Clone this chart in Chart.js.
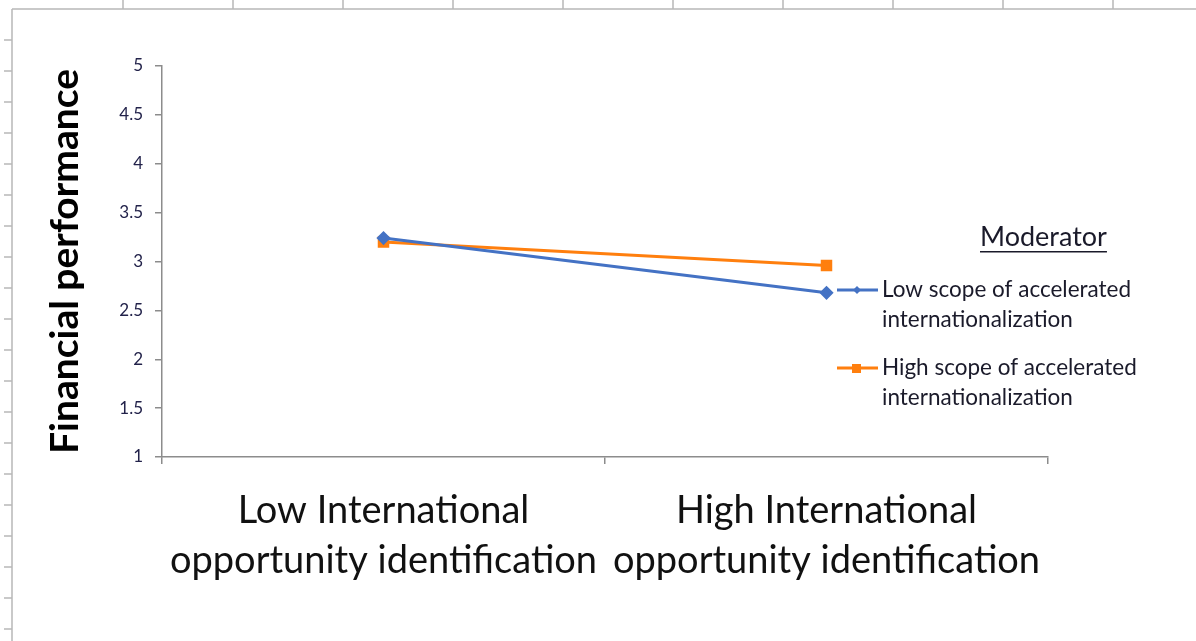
<!DOCTYPE html>
<html>
<head>
<meta charset="utf-8">
<script src="https://cdn.jsdelivr.net/npm/chart.js@4/dist/chart.umd.min.js"></script>
<style>
  html, body { margin: 0; padding: 0; background: #fff; }
  #wrap { width: 1196px; height: 641px; position: relative; }
</style>
</head>
<body>
<div id="wrap"><canvas id="chart"></canvas></div>
<script>
// data
const categories = [
  ['Low International', 'opportunity identification'],
  ['High International', 'opportunity identification']
];
const lowScope = [3.24, 2.68];
const highScope = [3.20, 2.96];
const seriesNames = [
  ['Low scope of accelerated', 'internationalization'],
  ['High scope of accelerated', 'internationalization']
];
const yTicks = [1, 1.5, 2, 2.5, 3, 3.5, 4, 4.5, 5];

const FONT = 'Lato, "Open Sans", sans-serif';

// spreadsheet cell borders behind the chart
const sheetFrame = {
  id: 'sheetFrame',
  beforeDraw(chart) {
    const c = chart.ctx;
    c.save();
    c.strokeStyle = '#b8b8b8';
    c.lineWidth = 1.5;
    c.beginPath();
    c.moveTo(12, 9); c.lineTo(1196, 9);
    c.moveTo(12, 9); c.lineTo(12, 641);
    for (let x = 123; x < 1196; x += 110) { c.moveTo(x, 0); c.lineTo(x, 9); }
    for (let y = 40; y < 641; y += 31) { c.moveTo(4, y); c.lineTo(12, y); }
    c.stroke();
    c.restore();
  }
};

// legend drawn on the right with wrapped labels
const sideLegend = {
  id: 'sideLegend',
  afterDraw(chart) {
    const c = chart.ctx;
    c.save();
    c.fillStyle = '#1a1a2a';
    c.font = '27px ' + FONT;
    c.textBaseline = 'middle';
    c.textAlign = 'left';
    const t = 'Moderator';
    c.fillText(t, 980, 237);
    const w = c.measureText(t).width;
    c.fillRect(980, 251, w, 1.5);

    c.font = '22.5px ' + FONT;
    const rows = [290, 368];
    chart.data.datasets.forEach((ds, i) => {
      const y = rows[i];
      c.strokeStyle = ds.borderColor;
      c.lineWidth = 3;
      c.beginPath(); c.moveTo(837, y); c.lineTo(878, y); c.stroke();
      c.fillStyle = ds.borderColor;
      if (ds.pointStyle === 'rect') {
        c.fillRect(852, y - 4, 9, 9);
      } else {
        c.beginPath();
        c.moveTo(857, y - 4); c.lineTo(861, y); c.lineTo(857, y + 4); c.lineTo(853, y);
        c.closePath(); c.fill();
      }
      c.fillStyle = '#1a1a2a';
      seriesNames[i].forEach((line, k) => c.fillText(line, 882, y + k * 30));
    });
    c.restore();
  }
};

new Chart(document.getElementById('chart'), {
  type: 'line',
  data: {
    labels: categories,
    datasets: [
      {
        label: seriesNames[0].join(' '),
        data: lowScope,
        borderColor: '#4472c4',
        backgroundColor: '#4472c4',
        borderWidth: 3,
        pointStyle: 'rectRot',
        pointRadius: 5,
        tension: 0
      },
      {
        label: seriesNames[1].join(' '),
        data: highScope,
        borderColor: '#ff7f0e',
        backgroundColor: '#ff7f0e',
        borderWidth: 3,
        pointStyle: 'rect',
        pointRadius: 6,
        tension: 0
      }
    ]
  },
  options: {
    responsive: true,
    maintainAspectRatio: false,
    animation: false,
    layout: { padding: { top: 66, right: 148, left: 0, bottom: 0 } },
    plugins: {
      legend: { display: false },
      tooltip: { enabled: false }
    },
    scales: {
      x: {
        offset: true,
        border: { color: '#8c8c8c', width: 1.5 },
        grid: { offset: true, drawOnChartArea: false, tickLength: 7, color: '#8c8c8c', lineWidth: 1.5 },
        ticks: {
          color: '#111',
          padding: 22,
          maxRotation: 0,
          font: { family: FONT, size: 38, lineHeight: 1.32 }
        },
        afterFit(scale) { scale.height = 641 - 457; }
      },
      y: {
        min: 1,
        max: 5,
        afterBuildTicks(scale) { scale.ticks = yTicks.map(v => ({ value: v })); },
        border: { color: '#8c8c8c', width: 1.5 },
        grid: { drawOnChartArea: false, tickLength: 7, color: '#8c8c8c', lineWidth: 1.5 },
        ticks: {
          color: '#22224a',
          padding: 12,
          font: { family: FONT, size: 17 },
          callback: v => String(v)
        },
        title: {
          display: true,
          text: 'Financial performance',
          color: '#000',
          padding: { top: 42, bottom: 0 },
          font: { family: FONT, size: 39, weight: 'bold', lineHeight: 1.2 }
        },
        afterFit(scale) { scale.width = 162; }
      }
    }
  },
  plugins: [sheetFrame, sideLegend]
});
</script>
</body>
</html>
